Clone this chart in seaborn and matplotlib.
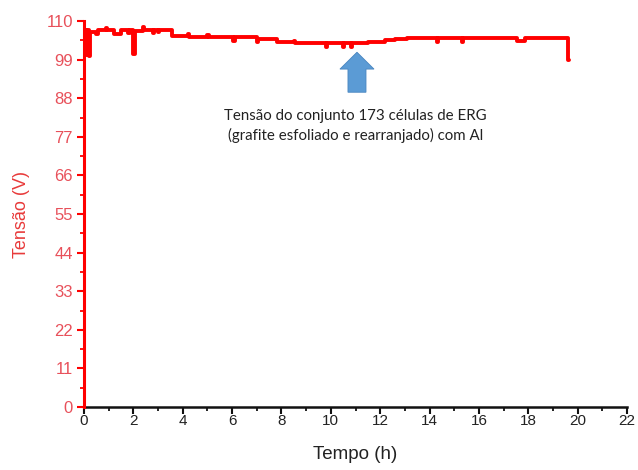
import matplotlib
matplotlib.use("Agg")
import matplotlib.pyplot as plt
from matplotlib.patches import FancyArrow
from matplotlib.ticker import MultipleLocator
import seaborn as sns
import pandas as pd

# ---- data (step samples: each value holds until the next time) ----
time_h = [0.0, 0.0, 0.1, 0.14, 0.2, 0.24, 0.5, 0.55, 0.9, 0.95, 1.2, 1.5, 1.8, 1.85,
          2.0, 2.05, 2.4, 2.45, 2.8, 2.85, 3.0, 3.05, 3.55, 4.2, 4.25, 5.0, 5.05,
          6.05, 6.1, 7.0, 7.05, 7.8, 8.5, 8.55, 9.8, 9.85, 10.5, 10.55, 10.8, 10.85,
          11.5, 12.2, 12.6, 13.1, 14.3, 14.34, 15.3, 15.34, 17.55, 17.85, 19.62, 19.66]
tensao_v = [0.0, 107.3, 100.2, 107.3, 100.0, 107.0, 106.4, 107.3, 108.0, 107.3, 106.2,
            107.3, 106.6, 107.4, 100.5, 107.2, 108.3, 107.3, 106.6, 107.4, 106.8,
            107.3, 105.6, 106.2, 105.5, 106.0, 105.4, 104.3, 105.3, 104.0, 104.9,
            103.9, 104.4, 103.7, 102.5, 103.8, 102.5, 103.8, 102.5, 103.8, 104.1,
            104.5, 105.0, 105.2, 104.0, 105.2, 104.0, 105.2, 104.3, 105.2, 98.8, 98.8]

x_ticks = list(range(0, 23, 2))
y_ticks = list(range(0, 111, 11))
annotation = "Tensão do conjunto 173 células de ERG\n(grafite esfoliado e rearranjado) com Al"

df = pd.DataFrame({"Tempo (h)": time_h, "Tensão (V)": tensao_v})

sns.set_theme(style="white")
plt.rcParams["font.family"] = ["Liberation Sans", "DejaVu Sans"]

fig = plt.figure(figsize=(6.38, 4.70), dpi=100)
ax = fig.add_axes([84 / 638, 63 / 470, (627 - 84) / 638, (407 - 21) / 470])

sns.lineplot(data=df, x="Tempo (h)", y="Tensão (V)", ax=ax, color="#ff0000",
             linewidth=2.8, estimator=None, sort=False, drawstyle="steps-post")

ax.set_xlim(0, 22)
ax.set_ylim(0, 110)
ax.set_xticks(x_ticks)
ax.set_yticks(y_ticks)
ax.xaxis.set_minor_locator(MultipleLocator(1))
ax.yaxis.set_minor_locator(MultipleLocator(5.5))

for s in ["top", "right"]:
    ax.spines[s].set_visible(False)
ax.spines["left"].set_color("#ff0000")
ax.spines["left"].set_linewidth(2.2)
ax.spines["bottom"].set_color("#111111")
ax.spines["bottom"].set_linewidth(1.8)
ax.spines["left"].set_zorder(5)

ax.tick_params(axis="y", which="major", direction="out", length=5, width=1.5,
               color="#ff0000", labelcolor="#e8505a", labelsize=12, pad=3, left=True)
ax.tick_params(axis="y", which="minor", direction="out", length=3, width=1.3,
               color="#ff0000", left=True)
ax.tick_params(axis="x", which="major", direction="out", length=5, width=1.5,
               color="#111111", labelcolor="#222222", labelsize=11, pad=0, bottom=True)
ax.tick_params(axis="x", which="minor", direction="out", length=3, width=1.3,
               color="#111111", bottom=True)

ax.set_xlabel("Tempo (h)", fontsize=13.5, color="#222222", labelpad=13)
ax.set_ylabel("Tensão (V)", fontsize=13, color="#e83a3a", labelpad=12)

# blue block arrow pointing to the curve
ax.add_patch(FancyArrow(11.06, 89.7, 0, 11.4, width=0.73, head_width=1.38,
                        head_length=4.8, length_includes_head=True,
                        facecolor="#5b9bd5", edgecolor="#4a86c0", linewidth=0.6))

ax.text(11.0, 84.8, annotation, ha="center", va="top", fontsize=10.8,
        color="#222222", family=["Lato", "DejaVu Sans"], linespacing=1.4)

fig.savefig("out.png", dpi=100)
